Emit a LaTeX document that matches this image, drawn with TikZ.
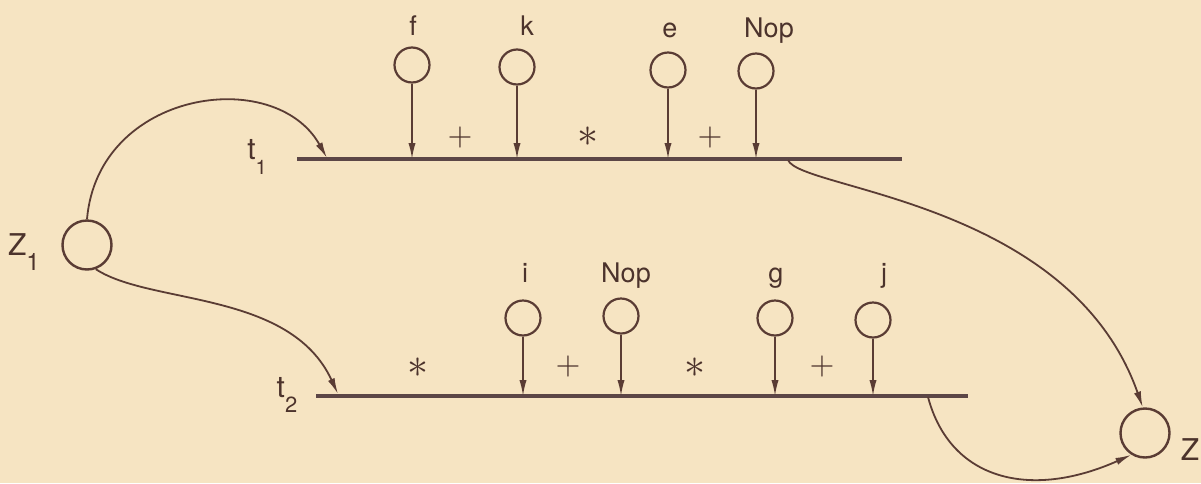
\documentclass[tikz,border=0pt]{standalone}
\usepackage{fontspec}
\setmainfont{TeX Gyre Heros}
\usetikzlibrary{arrows.meta}
\definecolor{paper}{HTML}{F6E4C2}
\definecolor{ink}{HTML}{5A3C34}
\definecolor{bar}{HTML}{5C4646}
\tikzset{
  inp/.style={circle,draw=ink,line width=1.1pt,minimum size=17.5pt,inner sep=0pt},
  big/.style={circle,draw=ink,line width=1.2pt,minimum size=24.5pt,inner sep=0pt},
  lbl/.style={anchor=base,text=ink!85!black,font=\fontsize{13.5}{16}\selectfont,inner sep=0pt},
  op/.style={text=ink!85!black,inner sep=0pt},
  feed/.style={draw=ink,line width=0.8pt,-{Latex[length=8pt,width=3.6pt]}},
  flow/.style={draw=ink,line width=0.9pt,-{Latex[length=8pt,width=3.6pt]}},
  track/.style={draw=bar,line width=2pt},
}
\newcommand{\plusop}{\scalebox{1.6}{$+$}}
\newcommand{\astop}{\scalebox{2.1}{$\ast$}}
\begin{document}
\begin{tikzpicture}[x=0.5pt,y=-0.5pt]
\useasboundingbox (0,0) rectangle (1201,483);
\fill[paper] (0,0) rectangle (1201,483);

% tracks
\coordinate (t1s) at (297,159);
\coordinate (t1e) at (902,159);
\coordinate (t2s) at (316,396);
\coordinate (t2e) at (968,396);
\draw[track] (t1s) -- (t1e);
\draw[track] (t2s) -- (t2e);
\node[text=ink!85!black,inner sep=0pt] (t1lbl) at (257,157) {\fontsize{15}{17}\selectfont t\raisebox{-0.9ex}{\fontsize{10}{11}\selectfont 1}};
\node[text=ink!85!black,inner sep=0pt] (t2lbl) at (287,395) {\fontsize{15}{17}\selectfont t\raisebox{-0.9ex}{\fontsize{11}{12}\selectfont 2}};

% top inputs
\node[inp] (f) at (412,65) {};
\node[inp] (k) at (517,67) {};
\node[inp] (e) at (668,70) {};
\node[inp] (nop1) at (756,71) {};
\node[lbl] (fl) at (413,35) {f};
\node[lbl] (kl) at (527,35) {k};
\node[lbl] (el) at (670,37) {e};
\node[lbl] (nop1l) at (769,37) {Nop};
\coordinate (fa) at (412,159);
\coordinate (ka) at (517,159);
\coordinate (ea) at (668,159);
\coordinate (nop1a) at (756,159);
\draw[feed] (f.south) -- (fa);
\draw[feed] (k.south) -- (ka);
\draw[feed] (e.south) -- (ea);
\draw[feed] (nop1.south) -- (nop1a);
\node[op] (o1) at (460,137) {\plusop};
\node[op] (o2) at (588,137) {\astop};
\node[op] (o3) at (710,137) {\plusop};

% bottom inputs
\node[inp] (i) at (523,318) {};
\node[inp] (nop2) at (621,316) {};
\node[inp] (g) at (775,318) {};
\node[inp] (j) at (873,320) {};
\node[lbl] (il) at (525,282) {i};
\node[lbl] (nop2l) at (626,282) {Nop};
\node[lbl] (gl) at (776,282) {g};
\node[lbl] (jl) at (884,282) {j};
\coordinate (ia) at (523,396);
\coordinate (nop2a) at (621,396);
\coordinate (ga) at (775,396);
\coordinate (ja) at (873,396);
\draw[feed] (i.south) -- (ia);
\draw[feed] (nop2.south) -- (nop2a);
\draw[feed] (g.south) -- (ga);
\draw[feed] (j.south) -- (ja);
\node[op] (p1) at (418,368) {\astop};
\node[op] (p2) at (568,366) {\plusop};
\node[op] (p3) at (695,368) {\astop};
\node[op] (p4) at (822,366) {\plusop};

% Z1 and Z
\node[big] (Z1) at (87,245) {};
\node[text=ink!85!black,inner sep=0pt] (Z1l) at (24,252) {\fontsize{15}{17}\selectfont Z\raisebox{-1.0ex}{\fontsize{12}{14}\selectfont 1}};
\node[big] (Z) at (1145,433) {};
\node[text=ink!85!black,inner sep=0pt] (Zl) at (1190,450) {\fontsize{15}{17}\selectfont Z};

% connectors
\coordinate (in1) at (327,158);
\coordinate (in2) at (338,394);
\coordinate (out1) at (788,160);
\coordinate (out2) at (928,397);
\draw[flow] (Z1.north) .. controls (98,90) and (275,65) .. (in1);
\draw[flow] (Z1.-70) .. controls (150,305) and (290,290) .. (in2);
\draw[flow] (out1) .. controls (800,190) and (1070,200) .. (Z.95);
\draw[flow] (out2) .. controls (950,480) and (1030,500) .. (Z.238);
\end{tikzpicture}
\end{document}
